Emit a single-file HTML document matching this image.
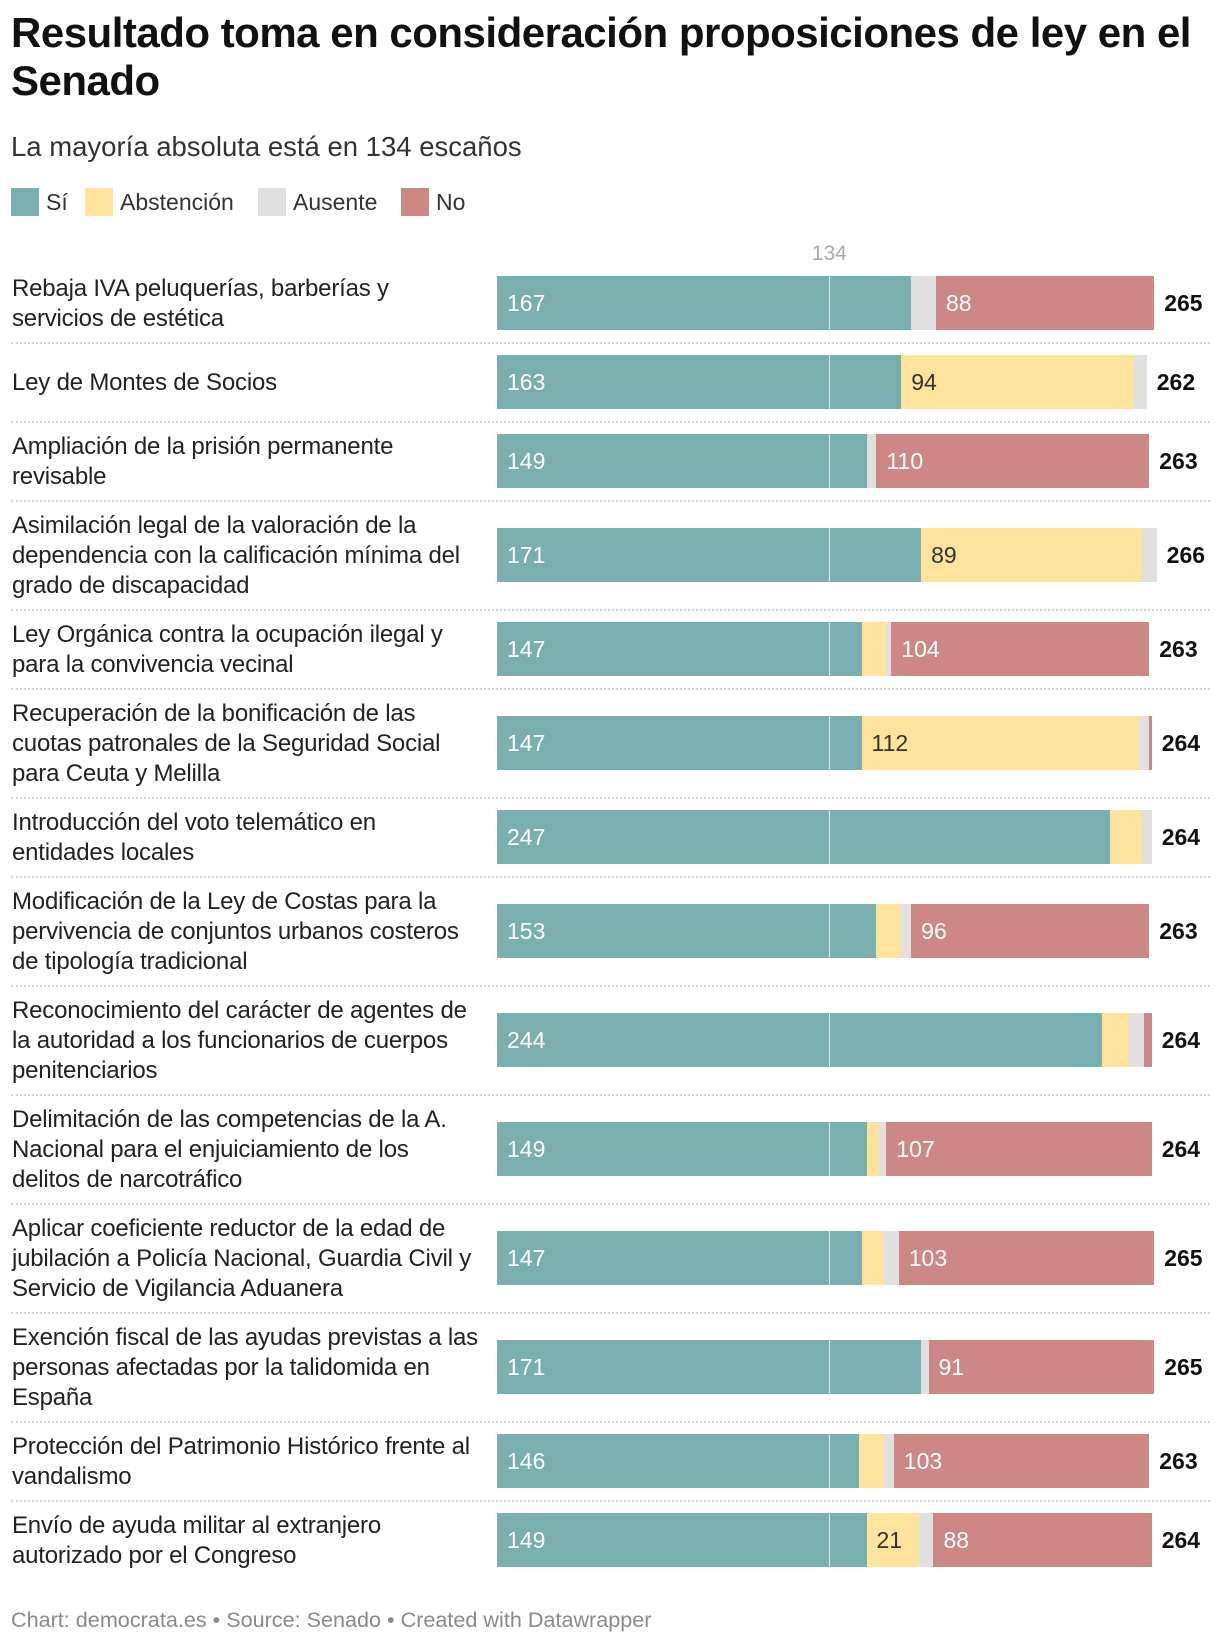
<!DOCTYPE html>
<html><head><meta charset="utf-8">
<style>
body{margin:0;background:#fff;width:1220px;height:1644px;overflow:hidden;font-family:"Liberation Sans",sans-serif;color:#222;position:relative}
.title{position:absolute;left:11px;top:9px;font-size:42px;font-weight:bold;line-height:48px;white-space:nowrap;color:#111;letter-spacing:-0.5px}
.sub{position:absolute;left:11px;top:131px;font-size:27.5px;color:#333}
.legend{position:absolute;top:188px;left:11px;height:28px}
.li{position:absolute;top:0;display:flex;align-items:center;font-size:23px;color:#333;white-space:nowrap}
.sw{width:28px;height:28px;margin-right:7px}
#chart{position:absolute;left:0;top:265px;width:1220px}
.row{position:relative;border-bottom:2px dotted #d6d6d6;margin-left:11px;width:1199px;box-sizing:border-box}
.row:last-child{border-bottom:none}
.lab{font-size:24px;line-height:30px;padding:9px 0 8px 1px;white-space:nowrap;color:#222;letter-spacing:-0.2px;min-height:60px;display:flex;flex-direction:column;justify-content:center}
.seg{position:absolute;height:54px}
.vl{position:absolute;font-size:23px;line-height:54px;height:54px;white-space:nowrap}
.tot{position:absolute;font-size:23px;font-weight:bold;line-height:54px;color:#111}
.foot{position:absolute;left:11px;top:1607px;font-size:21.6px;color:#8a8a8a}
</style></head><body>
<div class="title">Resultado toma en consideración proposiciones de ley en el<br>Senado</div>
<div class="sub">La mayoría absoluta está en 134 escaños</div>
<div class="legend">
 <div class="li" style="left:0"><div class="sw" style="background:#7aafaf"></div>Sí</div>
 <div class="li" style="left:74px"><div class="sw" style="background:#fde39c"></div>Abstención</div>
 <div class="li" style="left:247px"><div class="sw" style="background:#e0e0e0"></div>Ausente</div>
 <div class="li" style="left:390px"><div class="sw" style="background:#cd8886"></div>No</div>
</div>
<div id="majlabel" style="position:absolute;top:242px;font-size:21px;color:#aaa;transform:translateX(-50%)">134</div>
<div id="chart"></div>
<div class="foot">Chart: democrata.es • Source: Senado • Created with Datawrapper</div>
<script>
const labels=[
["Rebaja IVA peluquerías, barberías y","servicios de estética"],
["Ley de Montes de Socios"],
["Ampliación de la prisión permanente","revisable"],
["Asimilación legal de la valoración de la","dependencia con la calificación mínima del","grado de discapacidad"],
["Ley Orgánica contra la ocupación ilegal y","para la convivencia vecinal"],
["Recuperación de la bonificación de las","cuotas patronales de la Seguridad Social","para Ceuta y Melilla"],
["Introducción del voto telemático en","entidades locales"],
["Modificación de la Ley de Costas para la","pervivencia de conjuntos urbanos costeros","de tipología tradicional"],
["Reconocimiento del carácter de agentes de","la autoridad a los funcionarios de cuerpos","penitenciarios"],
["Delimitación de las competencias de la A.","Nacional para el enjuiciamiento de los","delitos de narcotráfico"],
["Aplicar coeficiente reductor de la edad de","jubilación a Policía Nacional, Guardia Civil y","Servicio de Vigilancia Aduanera"],
["Exención fiscal de las ayudas previstas a las","personas afectadas por la talidomida en","España"],
["Protección del Patrimonio Histórico frente al","vandalismo"],
["Envío de ayuda militar al extranjero","autorizado por el Congreso"]];
const si=[167,163,149,171,147,147,247,153,244,149,147,171,146,149];
const abst=[0,94,0,89,10,112,13,10,11,5,9,0,10,21];
const ausente=[10,5,4,6,2,4,4,4,6,3,6,3,4,6];
const no=[88,0,110,0,104,1,0,96,3,107,103,91,103,88];
const majority=134;
const X0=497, K=2.48;
const x=v=>X0+v*K;
const chart=document.getElementById('chart');
document.getElementById('majlabel').style.left=x(majority)+'px';
const series=[[si,'#7aafaf','#fff','si'],[abst,'#fde39c','#333','abstencion'],[ausente,'#e0e0e0','#333','ausente'],[no,'#cd8886','#fff','no']];
labels.forEach((lines,i)=>{
  const row=document.createElement('div');row.className='row';
  
  
  const lab=document.createElement('div');lab.className='lab';lab.innerHTML=lines.map(l=>'<span>'+l+'</span>').join('');
  
  
  row.appendChild(lab);
  chart.appendChild(row);
  const h=row.offsetHeight-2;const top=(h-54)/2;
  let acc=0;
  series.forEach(([arr,col,tc,nm])=>{
    const v=arr[i];if(v<=0)return;
    const s=document.createElement('div');s.className='seg';
    
    
    s.style.left=(x(acc)-11)+'px';s.style.width=(v*K)+'px';s.style.top=top+'px';s.style.background=col;
    row.appendChild(s);
    if(v>=15){const t=document.createElement('div');t.className='vl';t.textContent=v;
      
      
      t.style.left=(x(acc)-11+10)+'px';t.style.top=top+'px';t.style.color=tc;row.appendChild(t);}
    acc+=v;
  });
  const ml=document.createElement('div');
  
  
  ml.style.cssText='position:absolute;width:1px;height:54px;background:rgba(255,255,255,0.7);top:'+top+'px;left:'+(x(majority)-11)+'px';
  row.appendChild(ml);
  const tt=document.createElement('div');tt.className='tot';tt.textContent=acc;
  
  
  tt.style.left=(x(acc)-11+10)+'px';tt.style.top=top+'px';row.appendChild(tt);
});
</script>
</body></html>
